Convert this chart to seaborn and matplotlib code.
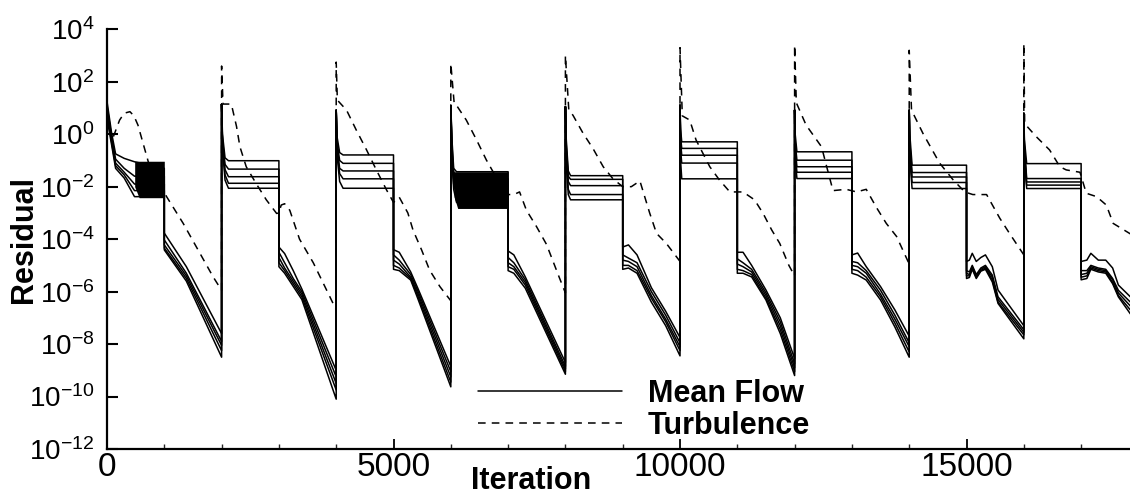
import numpy as np
import pandas as pd
import matplotlib
matplotlib.use("Agg")
import matplotlib.pyplot as plt
from matplotlib.lines import Line2D
from matplotlib.ticker import FixedLocator, MultipleLocator, LogFormatterSciNotation, NullLocator
import seaborn as sns

# ---------------------------------------------------------------------------
# Residual history (log10 of residual).
# Mean-flow tables: rows are [iteration, eq1, eq2, eq3, eq4, eq5]
# ---------------------------------------------------------------------------
mean_c0 = [[0, 1.25, 1.10, 0.95, 0.80, 0.60],
           [80, 0.05, -0.10, -0.20, -0.30, -0.40],
           [150, -0.75, -0.95, -1.10, -1.20, -1.30],
           [300, -0.92, -1.30, -1.45, -1.55, -1.67],
           [480, -1.05, -1.60, -1.90, -2.15, -2.38],
           [1000, -1.30, -1.60, -1.90, -2.15, -2.38],
           [1000, -3.77, -4.03, -4.22, -4.34, -4.41],
           [1385, -5.05, -5.30, -5.40, -5.50, -5.60],
           [2000, -7.60, -7.90, -8.05, -8.25, -8.50]]
mean_c1 = [[2000, 1.15, 1.15, 1.15, 1.15, 1.15],
           [2015, 0.00, -0.20, -0.30, -0.40, -0.50],
           [2060, -0.90, -1.15, -1.35, -1.55, -1.75],
           [2120, -1.01, -1.33, -1.62, -1.87, -2.06],
           [3000, -1.01, -1.33, -1.62, -1.87, -2.06],
           [3000, -4.30, -4.50, -4.70, -4.90, -5.05],
           [3100, -4.55, -4.90, -5.10, -5.20, -5.30],
           [3250, -5.20, -5.50, -5.60, -5.70, -5.80],
           [3400, -5.90, -6.00, -6.10, -6.20, -6.30],
           [4000, -9.00, -9.25, -9.50, -9.75, -10.10]]
mean_c2 = [[4000, 0.92, 0.92, 0.92, 0.92, 0.92],
           [4015, -0.10, -0.30, -0.50, -0.60, -0.80],
           [4060, -0.70, -1.00, -1.30, -1.50, -1.80],
           [4120, -0.79, -1.11, -1.40, -1.70, -2.06],
           [5000, -0.79, -1.11, -1.40, -1.70, -2.06],
           [5000, -4.40, -4.60, -4.80, -5.00, -5.15],
           [5100, -4.50, -4.80, -4.95, -5.10, -5.20],
           [5300, -5.25, -5.35, -5.45, -5.50, -5.56],
           [5430, -5.90, -6.00, -6.10, -6.20, -6.30],
           [6000, -8.85, -9.05, -9.25, -9.45, -9.63]]
mean_c3 = [[6000, 1.10, 1.10, 1.10, 1.10, 1.10],
           [6020, -0.20, -0.40, -0.60, -0.80, -1.00],
           [6050, -1.30, -1.50, -1.70, -1.90, -2.10],
           [6100, -1.43, -1.70, -2.00, -2.30, -2.60],
           [7000, -1.43, -1.70, -2.00, -2.30, -2.60],
           [7000, -4.45, -4.70, -4.90, -5.05, -5.20],
           [7100, -4.60, -4.90, -5.05, -5.15, -5.30],
           [7300, -5.44, -5.55, -5.65, -5.75, -5.87],
           [8000, -8.70, -8.85, -8.95, -9.05, -9.15]]
mean_c4 = [[8000, 1.05, 1.05, 1.05, 1.05, 1.05],
           [8015, -0.20, -0.40, -0.60, -0.80, -1.00],
           [8050, -1.40, -1.60, -1.80, -2.10, -2.30],
           [8090, -1.58, -1.72, -1.96, -2.30, -2.50],
           [9000, -1.58, -1.72, -1.96, -2.30, -2.50],
           [9000, -4.30, -4.60, -4.80, -5.00, -5.15],
           [9100, -4.22, -4.72, -4.85, -5.00, -5.10],
           [9250, -4.60, -4.90, -5.05, -5.20, -5.30],
           [9500, -5.85, -6.00, -6.15, -6.25, -6.40],
           [9750, -6.75, -6.90, -7.05, -7.15, -7.30],
           [10000, -7.75, -7.95, -8.10, -8.25, -8.45]]
mean_c5 = [[10000, 1.11, 1.11, 1.11, 1.11, 1.11],
           [10010, 0.20, -0.10, -0.30, -0.60, -1.00],
           [10030, -0.29, -0.54, -0.80, -1.10, -1.70],
           [11000, -0.29, -0.54, -0.80, -1.10, -1.70],
           [11000, -4.50, -4.75, -4.95, -5.15, -5.30],
           [11100, -4.50, -4.90, -5.05, -5.20, -5.30],
           [11250, -5.00, -5.15, -5.25, -5.35, -5.44],
           [11500, -5.94, -6.05, -6.15, -6.25, -6.32],
           [11750, -7.00, -7.15, -7.30, -7.45, -7.60],
           [12000, -8.55, -8.75, -8.90, -9.05, -9.20]]
mean_c6 = [[12000, 0.92, 0.92, 0.92, 0.92, 0.92],
           [12010, 0.00, -0.30, -0.50, -0.70, -0.90],
           [12040, -0.67, -0.99, -1.24, -1.45, -1.69],
           [13000, -0.67, -0.99, -1.24, -1.45, -1.69],
           [13000, -4.60, -4.85, -5.00, -5.15, -5.30],
           [13100, -4.53, -4.90, -5.05, -5.20, -5.37],
           [13250, -5.05, -5.20, -5.30, -5.45, -5.56],
           [13500, -5.81, -5.95, -6.10, -6.20, -6.32],
           [13750, -6.70, -6.90, -7.05, -7.20, -7.35],
           [14000, -7.70, -7.95, -8.10, -8.30, -8.50]]
mean_c7 = [[14000, 0.92, 0.92, 0.92, 0.92, 0.92],
           [14010, 0.00, -0.30, -0.50, -0.70, -0.90],
           [14050, -1.18, -1.46, -1.63, -1.84, -2.07],
           [15000, -1.18, -1.46, -1.63, -1.84, -2.07],
           [15000, -4.85, -5.20, -5.30, -5.40, -5.50],
           [15050, -4.80, -5.25, -5.35, -5.40, -5.46],
           [15100, -4.54, -5.00, -5.05, -5.10, -5.15],
           [15170, -4.85, -5.35, -5.40, -5.45, -5.50],
           [15250, -4.70, -5.10, -5.15, -5.20, -5.22],
           [15330, -4.60, -5.00, -5.05, -5.10, -5.15],
           [15450, -5.05, -5.37, -5.45, -5.55, -5.63],
           [15550, -5.94, -6.20, -6.30, -6.40, -6.45],
           [16000, -7.30, -7.45, -7.55, -7.65, -7.80]]
mean_c8 = [[16000, 0.80, 0.80, 0.80, 0.80, 0.80],
           [16010, -0.20, -0.40, -0.60, -0.80, -1.00],
           [16050, -1.12, -1.69, -1.82, -1.94, -2.07],
           [17000, -1.12, -1.69, -1.82, -1.94, -2.07],
           [17000, -4.85, -5.20, -5.35, -5.45, -5.55],
           [17100, -4.80, -5.20, -5.30, -5.40, -5.50],
           [17170, -4.54, -5.00, -5.05, -5.10, -5.15],
           [17300, -4.80, -5.10, -5.15, -5.20, -5.25],
           [17430, -4.80, -5.15, -5.20, -5.25, -5.30],
           [17550, -5.10, -5.50, -5.55, -5.65, -5.70],
           [17650, -5.75, -5.95, -6.05, -6.15, -6.20],
           [17860, -6.20, -6.40, -6.55, -6.70, -6.85]]

# Limit-cycle oscillation envelopes: [iteration, upper, lower]
band_c0 = [[483, -1.03, -2.00], [560, -1.03, -2.42], [1000, -1.03, -2.42]]
band_c3 = [[6040, -1.30, -1.60], [6060, -1.43, -2.40], [6120, -1.43, -2.83],
           [7000, -1.43, -2.83]]

# Turbulence residual: [iteration, log10 residual]
turb_c0 = [[0, 0.90], [60, 0.10], [110, -0.10], [220, 0.54], [300, 0.80],
           [400, 0.86], [470, 0.70], [540, 0.35], [630, -0.35], [745, -1.24],
           [1040, -2.38], [1330, -3.40], [1850, -5.43], [2000, -5.95]]
turb_c1 = [[2000, 2.60], [2025, 1.15], [2170, 1.15], [2260, 0.30], [2320, -0.48],
           [2430, -1.24], [2600, -1.87], [2780, -2.50], [2960, -3.02], [3000, -3.00],
           [3040, -2.70], [3100, -2.65], [3190, -2.90], [3360, -4.00], [3600, -4.90],
           [3890, -6.20], [4000, -6.70]]
turb_c2 = [[4000, 2.75], [4020, 1.30], [4180, 0.92], [4350, 0.16], [4530, -0.60],
           [4700, -1.36], [4880, -2.13], [5000, -2.60], [5100, -2.40], [5250, -3.00],
           [5340, -3.65], [5490, -4.41], [5630, -5.18], [5810, -5.81], [6000, -6.35]]
turb_c3 = [[6000, 2.70], [6060, 1.15], [6100, 1.10], [6270, 0.54], [6450, -0.22],
           [6620, -0.98], [6820, -1.75], [7000, -2.30], [7100, -2.30], [7200, -2.20],
           [7320, -2.90], [7490, -3.50], [7670, -4.20], [7900, -5.50], [8000, -6.05]]
turb_c4 = [[8000, 3.00], [8060, 0.90], [8130, 0.73], [8310, 0.03], [8480, -0.54],
           [8660, -1.24], [8830, -1.70], [9000, -2.00], [9150, -2.00], [9300, -1.78],
           [9470, -3.00], [9590, -3.78], [9760, -4.16], [10000, -4.85]]
turb_c5 = [[10000, 3.30], [10040, 0.70], [10170, 0.54], [10280, -0.22], [10520, -1.24],
           [10690, -1.75], [10870, -2.20], [11100, -2.20], [11300, -2.50], [11450, -3.02],
           [11600, -3.65], [11740, -4.16], [11900, -5.00], [12000, -5.40]]
turb_c6 = [[12000, 3.40], [12030, 1.20], [12200, 0.35], [12470, -0.48], [12560, -1.24],
           [12670, -2.15], [12900, -2.10], [13080, -2.20], [13250, -2.10], [13430, -2.80],
           [13600, -3.40], [13780, -3.90], [14000, -4.95]]
turb_c7 = [[14000, 3.20], [14040, 0.92], [14240, 0.03], [14530, -1.10], [14770, -1.75],
           [14970, -2.20], [15110, -2.30], [15200, -2.30], [15350, -2.30], [15580, -3.20],
           [15750, -3.78], [16000, -4.60]]
turb_c8 = [[16000, 3.45], [16015, 0.40], [16220, -0.10], [16450, -0.60], [16630, -1.24],
           [16740, -1.36], [16980, -1.45], [17090, -2.25], [17270, -2.38], [17440, -2.70],
           [17560, -3.40], [17860, -3.80]]

mean_tables = [mean_c0, mean_c1, mean_c2, mean_c3, mean_c4,
               mean_c5, mean_c6, mean_c7, mean_c8]
turb_tables = [turb_c0, turb_c1, turb_c2, turb_c3, turb_c4,
               turb_c5, turb_c6, turb_c7, turb_c8]
band_tables = [band_c0, band_c3]

legend_labels = ["Mean Flow", "Turbulence"]
y_ticks = [-12, -10, -8, -6, -4, -2, 0, 2, 4]
x_major = [0, 5000, 10000, 15000]

# ---------------------------------------------------------------------------
# Long-form frames
# ---------------------------------------------------------------------------
rows = []
for k in range(5):
    for tab in mean_tables:
        for r in tab:
            rows.append({"iteration": r[0], "residual": 10.0 ** r[k + 1], "eq": k})
mean_df = pd.DataFrame(rows)

turb_df = pd.DataFrame(
    [{"iteration": r[0], "residual": 10.0 ** r[1]} for tab in turb_tables for r in tab]
)

# ---------------------------------------------------------------------------
# Figure
# ---------------------------------------------------------------------------
sns.set_theme(style="ticks")
plt.rcParams["font.family"] = ["Liberation Sans", "DejaVu Sans"]
plt.rcParams["mathtext.fontset"] = "custom"
plt.rcParams["mathtext.rm"] = "Liberation Sans"
plt.rcParams["mathtext.it"] = "Liberation Sans:italic"
plt.rcParams["mathtext.bf"] = "Liberation Sans:bold"
plt.rcParams["mathtext.default"] = "regular"
plt.rcParams["text.color"] = "black"
plt.rcParams["axes.labelcolor"] = "black"

fig = plt.figure(figsize=(11.3, 4.95), dpi=100)
ax = fig.add_axes([107 / 1130, 46 / 495, 1023 / 1130, 419.7 / 495])

for band in band_tables:
    b = np.array(band)
    ax.fill_between(b[:, 0], 10.0 ** b[:, 2], 10.0 ** b[:, 1],
                    color="black", linewidth=0, zorder=2)

sns.lineplot(data=mean_df, x="iteration", y="residual", units="eq",
             estimator=None, sort=False, color="black", linewidth=1.1,
             legend=False, ax=ax, zorder=3)
sns.lineplot(data=turb_df, x="iteration", y="residual",
             estimator=None, sort=False, color="black", linewidth=1.1,
             legend=False, ax=ax, zorder=3)
ax.lines[-1].set_dashes((5, 4))

ax.set_yscale("log")
ax.set_xlim(0, 17853)
ax.set_ylim(1e-12, 1e4)

ax.yaxis.set_major_locator(FixedLocator([10.0 ** e for e in y_ticks]))
ax.yaxis.set_major_formatter(LogFormatterSciNotation())
ax.yaxis.set_minor_locator(NullLocator())
ax.xaxis.set_major_locator(FixedLocator(x_major))
ax.xaxis.set_minor_locator(MultipleLocator(1000))

for side in ["top", "right"]:
    ax.spines[side].set_visible(False)
for side in ["left", "bottom"]:
    ax.spines[side].set_linewidth(1.6)
    ax.spines[side].set_color("black")

ax.tick_params(axis="y", which="major", direction="in", length=8, width=1.5,
               pad=9, labelsize=20, colors="black")
ax.tick_params(axis="x", which="major", direction="in", length=7, width=1.3,
               pad=2, labelsize=24, colors="black")
ax.tick_params(axis="x", which="minor", direction="in", length=3.5, width=1.0)

ax.set_xlabel("Iteration", fontsize=22, fontweight="bold", color="black")
ax.set_ylabel("Residual", fontsize=22, fontweight="bold", color="black")
ax.xaxis.set_label_coords((531 - 107) / 1023, -0.04)
ax.yaxis.set_label_coords(-0.066, 0.5)
ax.xaxis.label.set_va("top")

handles = [Line2D([], [], color="black", linewidth=1.1),
           Line2D([], [], color="black", linewidth=1.1, dashes=(5, 4))]
fig.legend(handles, legend_labels, loc="upper left",
           bbox_to_anchor=(478 / 1130, 1 - 379 / 495), frameon=False,
           prop={"size": 22, "weight": "bold"}, labelcolor="black",
           handlelength=4.7, handletextpad=0.85, labelspacing=0.05,
           borderpad=0, borderaxespad=0)

fig.savefig("out.png", dpi=100)
